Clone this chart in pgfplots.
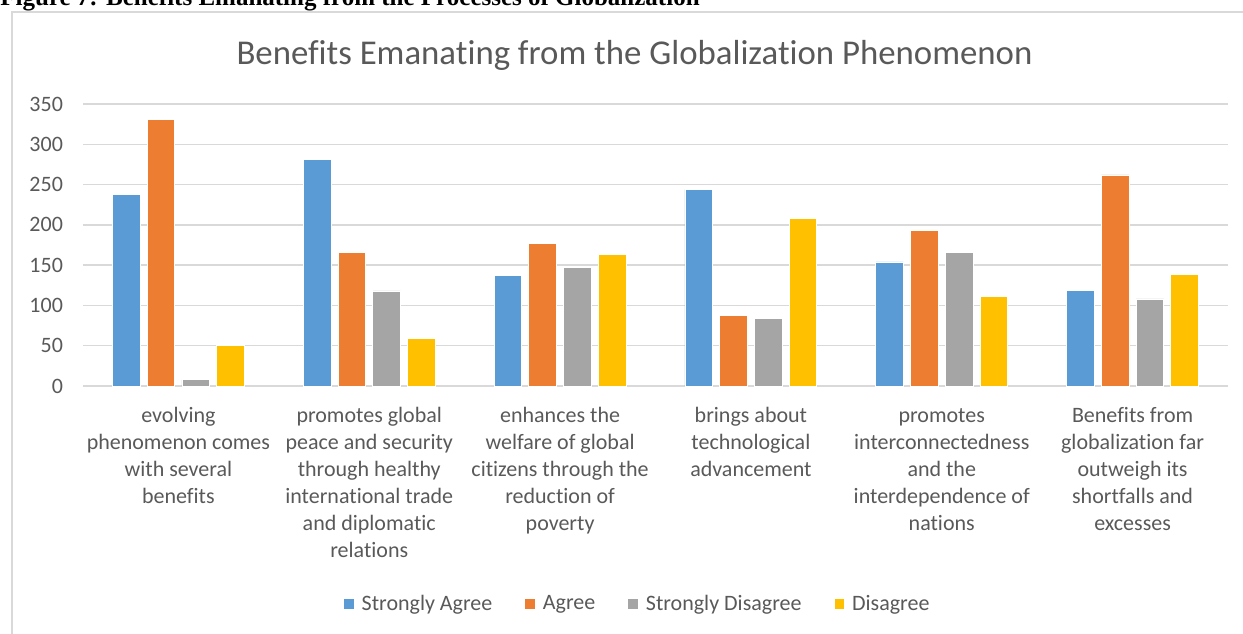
\documentclass[border=0pt]{standalone}
\usepackage{pgfplots}
\pgfplotsset{compat=1.18}
\usepackage{fontspec}
\setmainfont{Carlito}[Ligatures=NoCommon]
\newfontfamily\capfont{Liberation Serif}

\definecolor{saBlue}{HTML}{5B9BD5}
\definecolor{agOrange}{HTML}{ED7D31}
\definecolor{sdGray}{HTML}{A5A5A5}
\definecolor{diYellow}{HTML}{FFC000}
\definecolor{txtGray}{HTML}{595959}
\definecolor{lineGray}{HTML}{D9D9D9}

% responses per statement (0..5)
\pgfplotstableread{
x  sa   ag   sd   di
0  238  331  8    50
1  281  166  118  59
2  137  177  147  163
3  244  88   84   208
4  154  193  166  111
5  119  262  108  138
}\benefits

\begin{document}
\begin{tikzpicture}
% figure caption, partly cut off by the page edge
\begin{scope}
\clip (0,0) rectangle (621.5pt,-316.5pt);
\node[anchor=base west, inner sep=0pt] at (0pt,-2.9pt)
  {\capfont\fontsize{12.5}{14}\selectfont\bfseries Figure 7: Benefits Emanating from the Processes of Globalization};
\end{scope}

% chart frame
\draw[lineGray, line width=1pt] (6pt,-320pt) -- (6pt,-5.75pt) -- (625pt,-5.75pt);

% chart title
\node[text=txtGray, font=\fontsize{17.4}{20}\selectfont] at (317.25pt,-27.5pt)
  {Benefits Emanating from the Globalization Phenomenon};

\begin{axis}[
  at={(41.5pt,-52pt)}, anchor=north west,
  scale only axis, width=572.5pt, height=141pt,
  xmin=-0.5, xmax=5.5, ymin=0, ymax=350,
  ytick={0,50,...,350},
  xtick={0,1,2,3,4,5},
  xticklabels={
    {\strut evolving\\phenomenon comes\\with several\\benefits},
    {\strut promotes global\\peace and security\\through healthy\\international trade\\and diplomatic\\relations},
    {\strut enhances the\\welfare of global\\citizens through the\\reduction of\\poverty},
    {\strut brings about\\technological\\advancement},
    {\strut promotes\\interconnectedness\\and the\\interdependence of\\nations},
    {\strut Benefits from\\globalization far\\outweigh its\\shortfalls and\\excesses}},
  axis line style={draw=none},
  major tick length=0pt,
  ymajorgrids, grid style={lineGray, line width=0.7pt},
  /pgf/number format/assume math mode=true,
  ticklabel style={font=\fontsize{11}{13.5}\selectfont, text=txtGray},
  yticklabel style={anchor=east, xshift=-6.5pt},
  xticklabel style={align=center, anchor=north, yshift=-5.5pt},
  clip=false,
  legend style={
    at={(0.485,-0.773)}, anchor=center,
    draw=none, fill=none,
    legend columns=4,
    font=\fontsize{11}{13.5}\selectfont, text=txtGray,
    /tikz/every odd column/.append style={column sep=1.5pt},
    /tikz/every even column/.append style={column sep=14pt},
  },
  legend cell align=left,
  legend image code/.code={\fill[#1] (0pt,-2.7pt) rectangle (5.4pt,2.7pt);},
  every axis plot/.append style={ybar, bar width=0.145, draw=white, line width=0.4pt},
]
\addplot[fill=saBlue, bar shift=-0.273] table[x=x, y=sa] {\benefits};
\addlegendentry{Strongly Agree}
\addplot[fill=agOrange, bar shift=-0.091] table[x=x, y=ag] {\benefits};
\addlegendentry{Agree}
\addplot[fill=sdGray, bar shift=0.091] table[x=x, y=sd] {\benefits};
\addlegendentry{Strongly Disagree}
\addplot[fill=diYellow, bar shift=0.273] table[x=x, y=di] {\benefits};
\addlegendentry{Disagree}
\end{axis}

\pgfresetboundingbox
\useasboundingbox (0,0) rectangle (621.5pt,-316.5pt);
\end{tikzpicture}
\end{document}
